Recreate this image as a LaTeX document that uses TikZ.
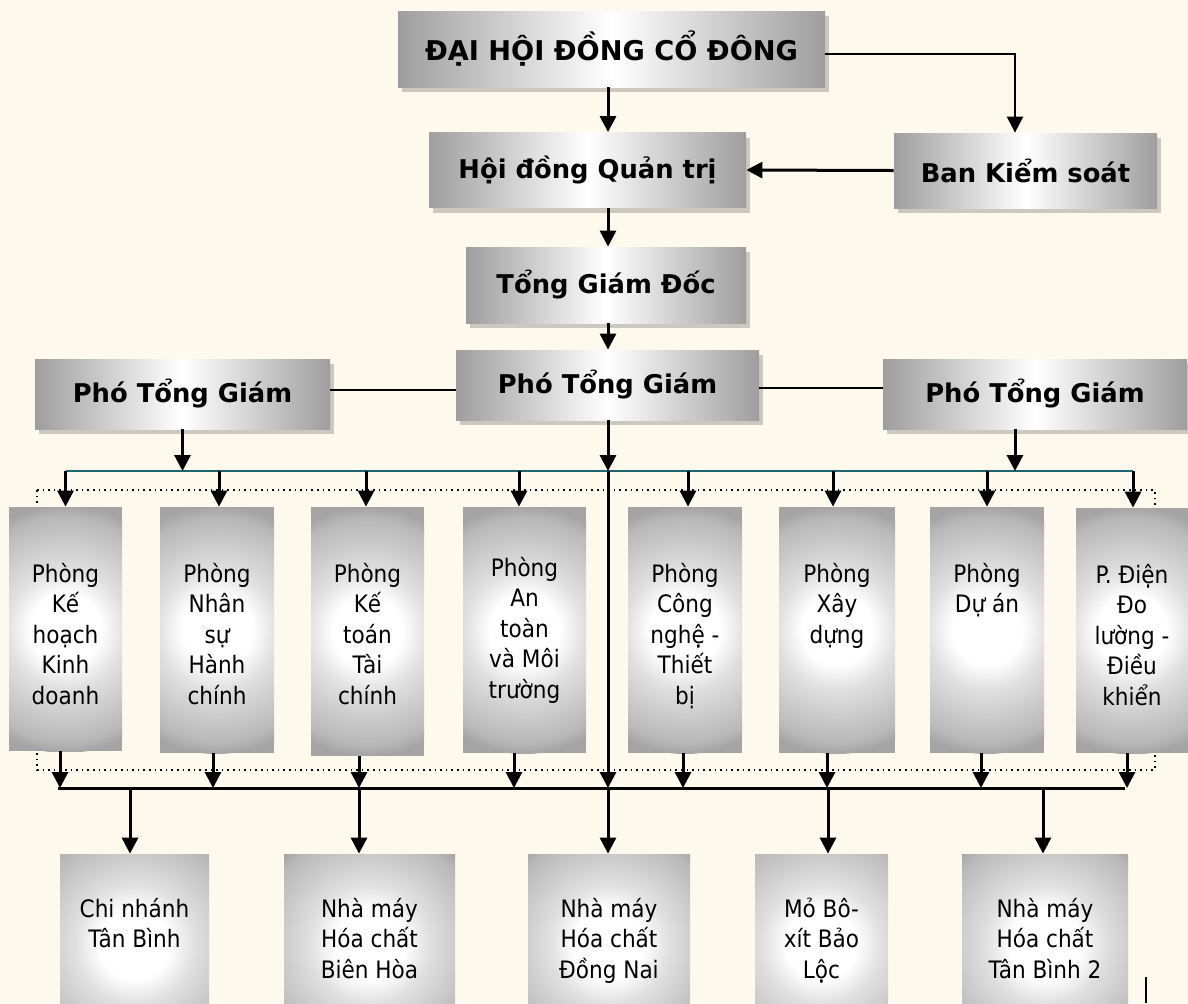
\documentclass[tikz,border=0pt]{standalone}
\usepackage{fontspec}
\setmainfont{DejaVu Sans Condensed}
\newfontfamily\headfont{DejaVu Sans}
\usetikzlibrary{arrows.meta,shadows}

\definecolor{bgcream}{RGB}{253,249,236}
\definecolor{busteal}{RGB}{30,100,112}
\definecolor{boxgray}{RGB}{158,158,158}
\definecolor{glowa}{RGB}{224,224,224}
\definecolor{glowb}{RGB}{184,184,184}
\definecolor{glowc}{RGB}{164,164,164}

\pgfdeclareradialshading{glow}{\pgfpoint{0bp}{0bp}}{color(0bp)=(white); color(7bp)=(white); color(12bp)=(glowa); color(22.5bp)=(glowb); color(25bp)=(glowc); color(50bp)=(glowc)}

\tikzset{
  headbox/.style={left color=boxgray, right color=boxgray, middle color=white,
    drop shadow={shadow xshift=2pt, shadow yshift=-2.5pt, opacity=0.4},
    inner sep=0pt, font=\headfont\bfseries\fontsize{12.9}{15}\selectfont},
  titlefont/.style={font=\headfont\bfseries\fontsize{13.6}{16}\selectfont},
  deptbox/.style={fill=glowc, inner sep=0pt,
    path picture={\shade[shading=glow] (path picture bounding box.center) circle (62pt);}},
  dtext/.style={anchor=north, align=center, inner sep=0pt,
    font=\fontsize{12}{15.25}\selectfont},
  arr/.style={-{Triangle[width=8pt,length=8pt]}, line width=1.5pt},
  bus/.style={line width=1.5pt},
}

\begin{document}
\begin{tikzpicture}[x=0.5pt,y=-0.5pt]
\useasboundingbox (0,0) rectangle (1188,1003);
\fill[bgcream] (0,0) rectangle (1188,1003);
\clip (0,0) rectangle (1188,1003);

% spine and bus coordinates
\coordinate (xa) at (608,0);
\coordinate (tl) at (66,471);
\coordinate (tr) at (1133,471);
\coordinate (bl) at (58,788);
\coordinate (br) at (1125,788);

% dotted frame behind the departments
\draw[dotted, line width=0.8pt] (37,490) rectangle (1155,770);

% management
\node[headbox, titlefont, minimum width=213.5pt, minimum height=38pt] (dhdcd) at (611.5,49) {ĐẠI HỘI ĐỒNG CỔ ĐÔNG};
\node[headbox, minimum width=158.5pt, minimum height=37.5pt] (hdqt) at (587.5,170) {Hội đồng Quản trị};
\node[headbox, minimum width=131.5pt, minimum height=37.5pt] (bks) at (1025.5,170.5) {Ban Kiểm soát};
\node[headbox, minimum width=140pt, minimum height=38pt] (tgd) at (606,285) {Tổng Giám Đốc};
\node[headbox, minimum width=151.5pt, minimum height=35pt] (ptgc) at (607.5,385) {Phó Tổng Giám};
\node[headbox, minimum width=147.5pt, minimum height=35pt] (ptgl) at (182.5,394) {Phó Tổng Giám};
\node[headbox, minimum width=152pt, minimum height=35pt] (ptgr) at (1035,394) {Phó Tổng Giám};

% departments
\node[deptbox, minimum width=56.5pt, minimum height=122pt] (d1) at (65.5,629) {};
\node[deptbox, minimum width=57pt, minimum height=123pt] (d2) at (217,630) {};
\node[deptbox, minimum width=56.5pt, minimum height=124.5pt] (d3) at (367.5,631.5) {};
\node[deptbox, minimum width=61.5pt, minimum height=123pt] (d4) at (524.5,630) {};
\node[deptbox, minimum width=57pt, minimum height=123pt] (d5) at (685,630) {};
\node[deptbox, minimum width=58pt, minimum height=123pt] (d6) at (837,630) {};
\node[deptbox, minimum width=57pt, minimum height=123pt] (d7) at (987,630) {};
\node[deptbox, minimum width=56pt, minimum height=122.5pt] (d8) at (1132,630.5) {};

\node[dtext] (d1t) at ([yshift=-28pt]d1.north) {Phòng\\Kế\\hoạch\\Kinh\\doanh};
\node[dtext] (d2t) at ([yshift=-28pt]d2.north) {Phòng\\Nhân\\sự\\Hành\\chính};
\node[dtext] (d3t) at ([yshift=-28pt]d3.north) {Phòng\\Kế\\toán\\Tài\\chính};
\node[dtext] (d4t) at ([yshift=-25pt]d4.north) {Phòng\\An\\toàn\\và Môi\\trường};
\node[dtext] (d5t) at ([yshift=-28pt]d5.north) {Phòng\\Công\\nghệ -\\Thiết\\bị};
\node[dtext] (d6t) at ([yshift=-28pt]d6.north) {Phòng\\Xây\\dựng};
\node[dtext] (d7t) at ([yshift=-28pt]d7.north) {Phòng\\Dự án};
\node[dtext] (d8t) at ([yshift=-28pt]d8.north) {P. Điện\\Đo\\lường -\\Điều\\khiển};

% units
\node[deptbox, minimum width=74.5pt, minimum height=90pt] (b1) at (134.5,944) {};
\node[deptbox, minimum width=85.5pt, minimum height=90pt] (b2) at (369.5,944) {};
\node[deptbox, minimum width=81pt, minimum height=90pt] (b3) at (609,944) {};
\node[deptbox, minimum width=66.5pt, minimum height=90pt] (b4) at (821.5,944) {};
\node[deptbox, minimum width=83pt, minimum height=90pt] (b5) at (1045,944) {};

\node[dtext] (b1t) at ([yshift=-22pt]b1.north) {Chi nhánh\\Tân Bình};
\node[dtext] (b2t) at ([yshift=-22pt]b2.north) {Nhà máy\\Hóa chất\\Biên Hòa};
\node[dtext] (b3t) at ([yshift=-22pt]b3.north) {Nhà máy\\Hóa chất\\Đồng Nai};
\node[dtext] (b4t) at ([yshift=-22pt]b4.north) {Mỏ Bô-\\xít Bảo\\Lộc};
\node[dtext] (b5t) at ([yshift=-22pt]b5.north) {Nhà máy\\Hóa chất\\Tân Bình 2};

% top links
\draw[arr] (xa |- dhdcd.south) -- (xa |- hdqt.north);
\draw[arr, line width=1.2pt] ([yshift=-2.5pt]dhdcd.east) -| ([xshift=-5.25pt]bks.north);
\draw[arr] (bks.west) -- (hdqt.east);
\draw[arr] (xa |- hdqt.south) -- (xa |- tgd.north);
\draw[arr] (xa |- tgd.south) -- (xa |- ptgc.north);
\draw[line width=1pt] ([yshift=-2.5pt]ptgc.west) -- ([yshift=-2.5pt]ptgc.west -| ptgl.east);
\draw[line width=1pt] ([yshift=-1.5pt]ptgc.east) -- ([yshift=-1.5pt]ptgc.east -| ptgr.west);

% deputies to the departments
\draw[bus, busteal, line width=1.3pt] (tl) -- (tr);
\draw[arr] (ptgl.south) -- (ptgl.south |- tl);
\draw[arr] (xa |- ptgc.south) -- (xa |- tl);
\draw[arr] ([xshift=-10pt]ptgr.south) -- ([xshift=-10pt]ptgr.south |- tl);
\foreach \d/\s in {d1/0,d2/1,d3/-0.75,d4/-2.75,d5/1.5,d6/-2,d7/0,d8/0.5}
  \draw[arr] ([xshift=\s pt]\d.north |- tl) -- ([xshift=\s pt]\d.north);

% departments to the units
\draw[bus] (bl) -- (br);
\foreach \d/\s in {d1/-2.75,d2/-2,d3/-4.25,d4/-5.25,d5/-1,d6/-5,d7/-3,d8/-2.5}
  \draw[arr] ([xshift=\s pt]\d.south) -- ([xshift=\s pt]\d.south |- bl);
\draw[arr] (xa |- tl) -- (xa |- bl);
\draw[arr] (xa |- bl) -- (xa |- b3.north);
\foreach \b/\s in {b1/-2.25,b2/-5.25,b4/3.25,b5/-1}
  \draw[arr] ([xshift=\s pt]\b.north |- bl) -- ([xshift=\s pt]\b.north);

\draw[line width=0.7pt] (1146,977) -- (1146,1003);
\end{tikzpicture}
\end{document}
